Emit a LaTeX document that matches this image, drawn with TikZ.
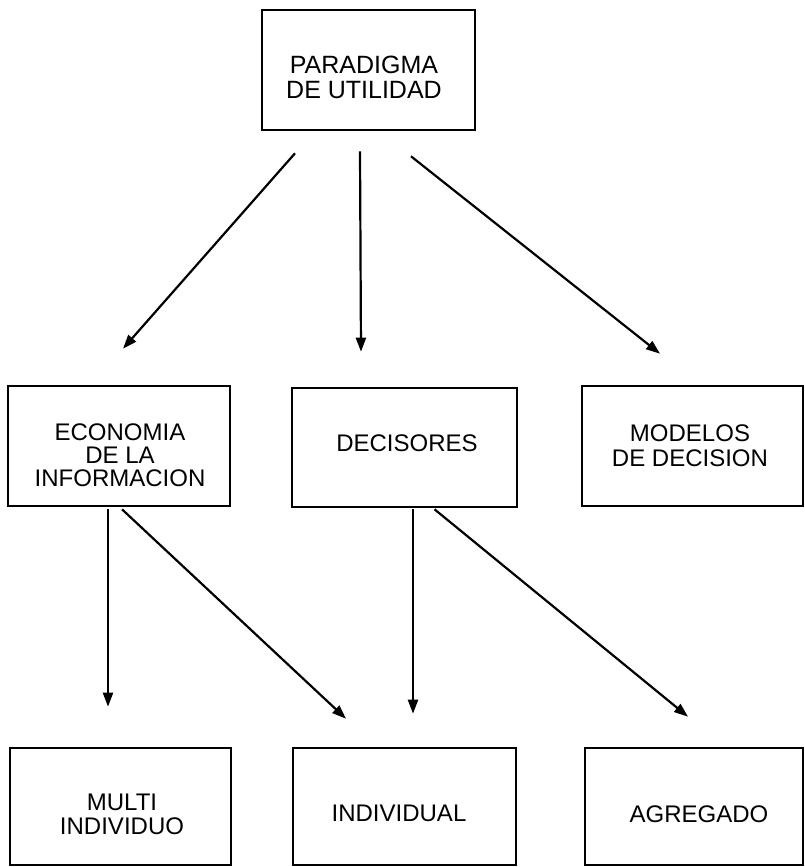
\documentclass[tikz,border=0pt]{standalone}
\usepackage{fontspec}
\setmainfont{Liberation Sans}
\usetikzlibrary{arrows.meta}
\begin{document}
\begin{tikzpicture}[x=1pt,y=-1pt,
  box/.style={draw, line width=2.6pt, inner sep=0pt},
  lbl/.style={font=\fontsize{24}{24}\selectfont, align=center, inner sep=0pt},
  arr/.style={line width=2.2pt, -{Triangle[length=14pt,width=10pt]}}]
\useasboundingbox (0,0) rectangle (805,867);
% boxes
\node[box, minimum width=213pt, minimum height=120pt] (top) at (368.5,70) {};
\node[box, minimum width=222pt, minimum height=120pt] (econ) at (119,446) {};
\node[box, minimum width=225pt, minimum height=119pt] (dec) at (404.5,447.5) {};
\node[box, minimum width=221pt, minimum height=120pt] (mod) at (692.5,446) {};
\node[box, minimum width=221pt, minimum height=117pt] (multi) at (120.5,806.5) {};
\node[box, minimum width=223pt, minimum height=117pt] (indiv) at (404.5,806.5) {};
\node[box, minimum width=218pt, minimum height=117pt] (agreg) at (694,806.5) {};
% labels
\node[lbl, font=\fontsize{25}{25}\selectfont] (ttop) at (364,77.5) {PARADIGMA\\DE UTILIDAD};
\node[lbl, font=\fontsize{24}{23}\selectfont] (tecon) at (120,455) {ECONOMIA\\DE LA\\INFORMACION};
\node[lbl] (tdec) at (407,443) {DECISORES};
\node[lbl, font=\fontsize{24}{25}\selectfont] (tmod) at (690,445.5) {MODELOS\\DE DECISION};
\node[lbl] (tmulti) at (122,814) {MULTI\\INDIVIDUO};
\node[lbl] (tindiv) at (399,813) {INDIVIDUAL};
\node[lbl] (tagreg) at (699,814) {AGREGADO};
% connectors
\draw[arr] ([xshift=-73.5pt,yshift=-22pt]top.south) -- ([xshift=4pt,yshift=36pt]econ.north);
\draw[arr] ([xshift=-8.5pt,yshift=-20pt]top.south) -- ([xshift=-43.5pt,yshift=35pt]dec.north);
\draw[arr] ([xshift=42.5pt,yshift=-25pt]top.south) -- ([xshift=-32.5pt,yshift=31pt]mod.north);
\draw[arr] ([xshift=-11pt,yshift=-2pt]econ.south) -- ([xshift=-12.5pt,yshift=40pt]multi.north);
\draw[arr] ([xshift=3pt,yshift=-2pt]econ.south) -- ([xshift=-58.5pt,yshift=28pt]indiv.north);
\draw[arr] ([xshift=8.5pt,yshift=-1pt]dec.south) -- ([xshift=8.5pt,yshift=33pt]indiv.north);
\draw[arr] ([xshift=30pt,yshift=-1pt]dec.south) -- ([xshift=-6pt,yshift=30pt]agreg.north);
\end{tikzpicture}
\end{document}
